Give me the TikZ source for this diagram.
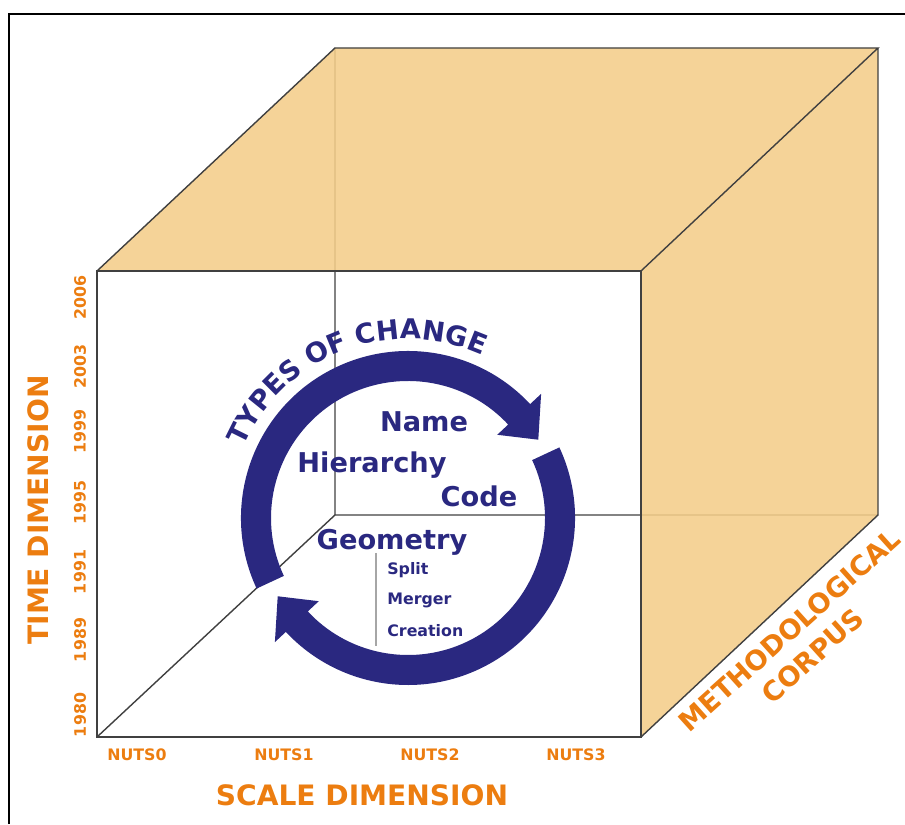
\documentclass[tikz,border=0pt]{standalone}
\usepackage{fontspec}
\setmainfont{DejaVu Sans}
\usepackage{tikz}
\usetikzlibrary{calc,positioning,decorations.text}
\usepackage{xcolor}
\definecolor{myorange}{RGB}{236,125,16}
\definecolor{myface}{RGB}{244,205,138}
\definecolor{mynavy}{RGB}{42,40,128}

\begin{document}
\begin{tikzpicture}[x=0.02cm, y=0.02cm,
  axislabel/.style={text=myorange, font=\bfseries\fontsize{16}{20}\selectfont},
  ticklabel/.style={text=myorange, font=\bfseries\fontsize{9}{10}\selectfont},
  changetype/.style={text=mynavy, font=\bfseries\fontsize{15.5}{17}\selectfont, anchor=base},
  subtype/.style={text=mynavy, font=\bfseries\fontsize{9}{10}\selectfont, anchor=base west, inner xsep=0pt},
  cubeedge/.style={draw=black!75, line width=0.8pt}]

  \useasboundingbox (0,0) rectangle (905,824);
  % Frame
  \draw[line width=1.2pt] (9,0) -- (9,810) -- (905,810);

  % Cube
  \coordinate (fbl) at (97,87);
  \coordinate (fbr) at (641,87);
  \coordinate (ftr) at (641,553);
  \coordinate (ftl) at (97,553);
  \coordinate (bbl) at (335,309);
  \coordinate (bbr) at (878,309);
  \coordinate (btr) at (878,776);
  \coordinate (btl) at (335,776);
  \draw[cubeedge] (fbl) -- (bbl) -- (bbr) (bbl) -- (btl);
  \fill[myface, fill opacity=0.88] (ftl) -- (ftr) -- (btr) -- (btl) -- cycle;
  \fill[myface, fill opacity=0.88] (ftr) -- (fbr) -- (bbr) -- (btr) -- cycle;
  \draw[cubeedge] (fbl) rectangle (ftr);
  \draw[cubeedge] (ftl) -- (btl) -- (btr) -- (ftr) (btr) -- (bbr) -- (fbr);

  % Cycle arrows
  \begin{scope}[shift={(408,306)}]
    \fill[mynavy] (205:167) arc[start angle=205, end angle=43, radius=167]
      -- (43:182) -- (31:152) -- (43:122) -- (43:137)
      arc[start angle=43, end angle=205, radius=137] -- cycle;
    \fill[mynavy] (25:167) arc[start angle=25, end angle=-137, radius=167]
      -- (-137:182) -- (-149:152) -- (-137:122) -- (-137:137)
      arc[start angle=-137, end angle=25, radius=137] -- cycle;
    \path[decorate, decoration={text along path, text align=center, text color=mynavy,
      text={|\bfseries\fontsize{15.5}{17}\selectfont|TYPES OF CHANGE}}]
      (160:179) arc[start angle=160, end angle=62, radius=179];
  \end{scope}

  % Types
  \node[changetype] (name) at (424,392) {Name};
  \node[changetype] (hier) at (372,351) {Hierarchy};
  \node[changetype] (code) at (479,317) {Code};
  \node[changetype] (geom) at (392,274) {Geometry};
  \node[subtype] (split) at (387,249) {Split};
  \node[subtype] (merger) at (387,219) {Merger};
  \node[subtype] (creation) at (387,187) {Creation};
  \draw[black!35, line width=1pt] ($(split.north west)+(-11,4)$) -- ($(creation.south west)+(-11,-3)$);

  % Axes
  \foreach \yr/\ypos in {2006/526, 2003/457, 1999/392, 1995/321, 1991/252, 1989/184, 1980/109}
    \node[ticklabel, rotate=90] (y\yr) at (80,\ypos) {\yr};
  \foreach \n/\xpos in {0/137, 1/284, 2/430, 3/576}
    \node[ticklabel] (nuts\n) at (\xpos,69) {NUTS\n};
  \node[axislabel, rotate=90] (time) at (38,314) {TIME DIMENSION};
  \node[axislabel] (scale) at (362,29) {SCALE DIMENSION};
  \node[axislabel, rotate=42, align=center, font=\bfseries\fontsize{15.5}{19.5}\selectfont] (corpus) at (801,181) {METHODOLOGICAL\\CORPUS};
\end{tikzpicture}
\end{document}
